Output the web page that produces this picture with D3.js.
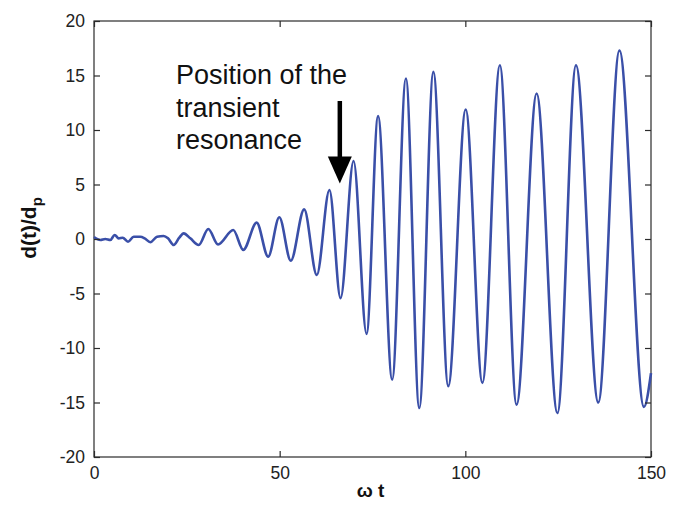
<!DOCTYPE html>
<html><head><meta charset="utf-8">
<script src="https://cdn.jsdelivr.net/npm/d3@7"></script>
<style>body{margin:0;background:#fff}svg{display:block}text{font-family:"Liberation Sans",Arial,sans-serif}</style>
</head><body><svg id="c" width="695" height="509"></svg>
<script>
// omega*t at each read extremum / point
const times = [0,1.7,3.04,4.39,5.57,6.65,7.73,9.16,10.69,12.47,13.65,15.16,16.97,18.77,19.93,21.47,22.97,24.16,25.94,28.2,30.78,33.4,37.5,40.2,43.8,46.9,49.9,53.0,56.6,60.0,63.4,66.4,69.9,73.4,76.5,80.3,84.0,87.6,91.4,95.4,100.1,104.6,109.3,113.8,119.2,124.8,129.8,135.8,141.5,148.1,150];
// d(t)/d_p values
const values = [0.18,-0.09,0,-0.09,0.37,0.06,0.12,-0.25,0.21,0.21,0.06,-0.30,0.21,0.27,0.06,-0.55,0.12,0.52,0.06,-0.55,0.92,-0.5,0.82,-1.0,1.5,-1.62,1.99,-1.99,2.72,-3.3,4.49,-5.43,7.15,-8.7,11.27,-12.9,14.72,-15.5,15.33,-13.5,11.88,-13.2,15.94,-15.2,13.35,-15.97,15.94,-15.0,17.3,-15.4,-12.3];
const xTicks = [0,50,100,150];
const yTicks = [-20,-15,-10,-5,0,5,10,15,20];
const annotationLines = ["Position of the","transient","resonance"];
const arrowTarget = {t:66.2, v:5.1};

const svg = d3.select("#c");
const L=94,R=651,T=21,B=457;
const x = d3.scaleLinear().domain([0,150]).range([L,R]);
const y = d3.scaleLinear().domain([-20,20]).range([B,T]);
const axisColor="#2b2b2b";

// frame
svg.append("rect").attr("x",L).attr("y",T).attr("width",R-L).attr("height",B-T)
  .attr("fill","none").attr("stroke",axisColor).attr("stroke-width",1.2);

// curve
const data = times.map((t,i)=>({t,v:values[i]}));
svg.append("path").datum(data)
  .attr("d", d3.line().x(d=>x(d.t)).y(d=>y(d.v)).curve(d3.curveMonotoneX))
  .attr("fill","none").attr("stroke","#3a4fa8").attr("stroke-width",2.6);

// axes
const fmt = d => String(d);
const ax = svg.append("g").attr("transform",`translate(0,${B})`)
  .call(d3.axisBottom(x).tickValues(xTicks).tickSize(-6).tickPadding(10).tickFormat(fmt));
const axT = svg.append("g").attr("transform",`translate(0,${T})`)
  .call(d3.axisTop(x).tickValues(xTicks).tickSize(-6).tickFormat(""));
const ay = svg.append("g").attr("transform",`translate(${L},0)`)
  .call(d3.axisLeft(y).tickValues(yTicks).tickSize(-6).tickPadding(9).tickFormat(fmt));
const ayR = svg.append("g").attr("transform",`translate(${R},0)`)
  .call(d3.axisRight(y).tickValues(yTicks).tickSize(-6).tickFormat(""));
[ax,axT,ay,ayR].forEach(g=>{
  g.select(".domain").remove();
  g.selectAll(".tick line").attr("stroke",axisColor).attr("stroke-width",1.2);
  g.selectAll(".tick text").attr("fill","#222").style("font-size","17.5px").style("font-family","'Liberation Sans',Arial,sans-serif");
});

// axis labels
svg.append("text").attr("x",(L+R)/2-2).attr("y",497).attr("text-anchor","middle")
  .style("font-size","19px").style("font-weight","bold").attr("fill","#111")
  .text("\u03c9 t");
const yl = svg.append("text").attr("transform","translate(36,228) rotate(-90)")
  .attr("text-anchor","middle").style("font-size","21px").style("font-weight","bold").attr("fill","#111");
yl.append("tspan").text("d(t)/d");
yl.append("tspan").attr("dy",6).style("font-size","15px").text("p");

// annotation
const ann = svg.append("text").attr("x",176).attr("y",84).style("font-size","27px").attr("fill","#111");
annotationLines.forEach((s,i)=>ann.append("tspan").attr("x",176).attr("dy",i?32.5:0).text(s));

// arrow
const ax0 = x(arrowTarget.t), tipY = y(arrowTarget.v);
svg.append("line").attr("x1",ax0).attr("x2",ax0).attr("y1",101).attr("y2",tipY-20)
  .attr("stroke","#000").attr("stroke-width",4.5);
svg.append("path").attr("d",`M${ax0-12},${tipY-27} L${ax0+12},${tipY-27} L${ax0},${tipY} Z`).attr("fill","#000");
</script></body></html>
